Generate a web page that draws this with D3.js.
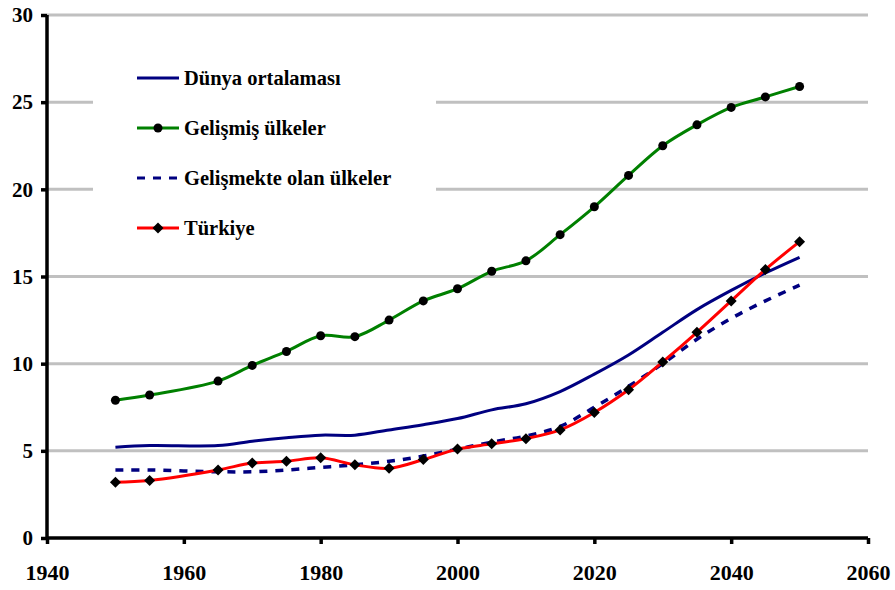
<!DOCTYPE html>
<html>
<head>
<meta charset="utf-8">
<script src="https://cdn.jsdelivr.net/npm/d3@7"></script>
<style>
html,body{margin:0;padding:0;background:#fff;}
svg{display:block;}
</style>
</head>
<body>
<svg id="c" width="895" height="590"></svg>
<script>
const years = [1950,1955,1965,1970,1975,1980,1985,1990,1995,2000,2005,2010,2015,2020,2025,2030,2035,2040,2045,2050];
const dunya = [5.2,5.3,5.3,5.55,5.75,5.9,5.9,6.2,6.5,6.85,7.35,7.7,8.4,9.4,10.5,11.8,13.1,14.2,15.2,16.1];
const gelismis = [7.9,8.2,9.0,9.9,10.7,11.6,11.55,12.5,13.6,14.3,15.3,15.9,17.4,19.0,20.8,22.5,23.7,24.7,25.3,25.9];
const gelismekte = [3.9,3.9,3.8,3.8,3.9,4.05,4.2,4.4,4.7,5.1,5.5,5.85,6.4,7.5,8.7,10.0,11.4,12.6,13.6,14.5];
const turkiye = [3.2,3.3,3.9,4.3,4.4,4.6,4.2,4.0,4.5,5.1,5.4,5.7,6.2,7.2,8.5,10.1,11.8,13.6,15.4,17.0];
const xTicks = [1940,1960,1980,2000,2020,2040,2060];
const yTicks = [0,5,10,15,20,25,30];
const seriesNames = ["Dünya ortalaması","Gelişmiş ülkeler","Gelişmekte olan ülkeler","Türkiye"];

const FONT = "Liberation Serif";
const svg = d3.select("#c");
const x = d3.scaleLinear().domain([1940,2060]).range([47,868]);
const y = d3.scaleLinear().domain([0,30]).range([538,15]);

// gridlines
svg.append("g").selectAll("line").data(yTicks.filter(d=>d>0)).join("line")
  .attr("x1",x(1940)).attr("x2",x(2060))
  .attr("y1",d=>y(d)).attr("y2",d=>y(d))
  .attr("stroke","#c0c0c0").attr("stroke-width",3);

// legend background
svg.append("rect").attr("x",93).attr("y",50).attr("width",343).attr("height",205).attr("fill","#fff");

const series = [
  {name:seriesNames[0], vals:dunya, color:"#000080", dash:null, marker:null},
  {name:seriesNames[1], vals:gelismis, color:"#008000", dash:null, marker:"circle"},
  {name:seriesNames[2], vals:gelismekte, color:"#000080", dash:"8,8", marker:null},
  {name:seriesNames[3], vals:turkiye, color:"#ff0000", dash:null, marker:"diamond"}
];

const line = d3.line().x(d=>x(d[0])).y(d=>y(d[1])).curve(d3.curveCatmullRom.alpha(0.5));
const diamond = s => `M0,${-s}L${s},0L0,${s}L${-s},0Z`;

function drawMarker(g, type, cx, cy){
  if(type==="circle") g.append("circle").attr("cx",cx).attr("cy",cy).attr("r",4.5).attr("fill","#000");
  else if(type==="diamond") g.append("path").attr("d",diamond(5.5)).attr("transform",`translate(${cx},${cy})`).attr("fill","#000");
}

const plot = svg.append("g");
[0,2,1,3].forEach(i=>{
  const s = series[i];
  const pts = years.map((yr,j)=>[yr,s.vals[j]]);
  plot.append("path").attr("d",line(pts)).attr("fill","none")
    .attr("stroke",s.color).attr("stroke-width",s.dash?3.5:3)
    .attr("stroke-dasharray",s.dash);
  if(s.marker){
    const mg = plot.append("g");
    pts.forEach(p=>drawMarker(mg,s.marker,x(p[0]),y(p[1])));
  }
});

// axes
const yAxis = svg.append("g").attr("transform",`translate(${x(1940)},0)`)
  .call(d3.axisLeft(y).tickValues(yTicks).tickSize(6).tickPadding(8).tickFormat(d3.format("d")));
const xAxis = svg.append("g").attr("transform",`translate(0,${y(0)})`)
  .call(d3.axisBottom(x).tickValues(xTicks).tickSize(6).tickPadding(20).tickFormat(d3.format("d")));
[yAxis,xAxis].forEach(a=>{
  a.attr("font-family",FONT).attr("font-weight","bold");
  a.select(".domain").attr("stroke","#000").attr("stroke-width",3.5);
  a.selectAll(".tick line").attr("stroke","#000").attr("stroke-width",3.5);
  a.selectAll(".tick text").attr("font-family",FONT).attr("font-weight","bold").attr("fill","#000");
});
yAxis.attr("font-size",21).selectAll(".tick text").attr("font-size",21);
xAxis.attr("font-size",22).selectAll(".tick text").attr("font-size",22).attr("y",42).attr("dy",0);
yAxis.select(".domain").attr("d",`M0,${y(0)}V${y(30)}`);
yAxis.selectAll(".tick line").attr("x2",-6);
xAxis.select(".domain").attr("d",`M${x(1940)},0H${x(2060)}`);

// legend
const lg = svg.append("g").attr("font-family",FONT).attr("font-weight","bold");
series.forEach((s,i)=>{
  const ly = 78 + i*50;
  lg.append("line").attr("x1",137).attr("x2",179).attr("y1",ly).attr("y2",ly)
    .attr("stroke",s.color).attr("stroke-width",3).attr("stroke-dasharray",s.dash);
  if(s.marker) drawMarker(lg,s.marker,158,ly);
  lg.append("text").attr("x",184).attr("y",ly+7).attr("font-family",FONT).attr("font-weight","bold")
    .attr("font-size",20.5).attr("fill","#000").text(s.name);
});
</script>
</body>
</html>
